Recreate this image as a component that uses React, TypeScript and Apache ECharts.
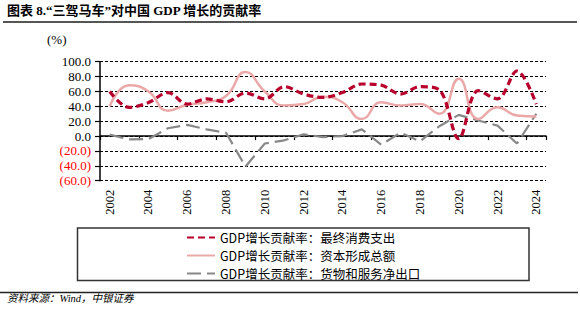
import React, { useEffect, useRef } from "react";
import * as echarts from "echarts";

const years = ["2002","2003","2004","2005","2006","2007","2008","2009","2010","2011","2012","2013","2014","2015","2016","2017","2018","2019","2020","2021","2022","2023","2024"];
const consumption = [60, 38.5, 45, 58.5, 43, 50, 46, 58, 50, 66.5, 56.5, 52, 58.5, 70, 68.5, 56.5, 66.5, 62, -3.5, 61, 50, 87.5, 43];
const capital = [40, 68.5, 60, 34, 42, 45.5, 54, 86, 60, 41, 43, 53, 45.5, 23, 45.5, 41, 43, 30, 77, 23, 38.7, 27.6, 26.3];
const netExports = [2, -4.5, -4, 10.5, 15, 9, 4.5, -41, -10, -5.7, 2.3, -1.3, 0, 9, -11.5, 4.5, -7, 13.3, 28.5, 21, 14, -10, 30];
const seriesNames = [
  "GDP增长贡献率：最终消费支出",
  "GDP增长贡献率：资本形成总额",
  "GDP增长贡献率：货物和服务净出口",
];
const titleText = "图表 8.“三驾马车”对中国 GDP 增长的贡献率";
const unitText = "(%)";
const sourceText = "资料来源：Wind，中银证券";

const serif = "'Liberation Serif', 'Times New Roman', serif";
const cjk = "'Noto Sans CJK SC', 'Noto Sans', sans-serif";

export default function App() {
  const ref = useRef<HTMLDivElement>(null);
  useEffect(() => {
    if (!ref.current) return;
    const chart = echarts.init(ref.current, null, { renderer: "svg" });
    chart.setOption({
      animation: false,
      backgroundColor: "#ffffff",
      grid: { left: 100, right: 34, top: 61.7, bottom: 149.3, containLabel: false },
      xAxis: [
        {
          type: "category",
          data: years,
          position: "bottom",
          boundaryGap: true,
          axisLine: { show: false, onZero: false },
          axisTick: { show: false },
          splitLine: { show: false },
          axisLabel: {
            interval: 1,
            rotate: 90,
            margin: 9,
            color: "#000",
            fontFamily: serif,
            fontSize: 12.5,
          },
        },
        {
          type: "category",
          data: years,
          position: "top",
          boundaryGap: true,
          axisLine: { show: true, onZero: true, lineStyle: { color: "#000", width: 1.5 } },
          axisTick: { show: true, interval: 1, inside: true, length: 4, lineStyle: { color: "#000", width: 1.2 } },
          axisLabel: { show: false },
          splitLine: { show: false },
        },
      ],
      yAxis: {
        type: "value",
        min: -60,
        max: 100,
        interval: 20,
        axisLine: { show: true, onZero: false, lineStyle: { color: "#000", width: 1.5 } },
        axisTick: { show: true, length: 5, lineStyle: { color: "#000", width: 1.2 } },
        splitLine: { show: true, lineStyle: { color: "#000", width: 1, type: [3, 2] } },
        axisLabel: {
          margin: 9,
          fontFamily: serif,
          fontSize: 13,
          formatter: (v: number) =>
            v < 0 ? "{neg|(" + Math.abs(v).toFixed(1) + ")}" : "{pos|" + v.toFixed(1) + "}",
          rich: {
            neg: { color: "#ff0000", fontFamily: serif, fontSize: 13 },
            pos: { color: "#000", fontFamily: serif, fontSize: 13 },
          },
        },
      },
      legend: {
        orient: "vertical",
        left: 186,
        top: 231,
        padding: 0,
        itemWidth: 28,
        itemHeight: 12,
        itemGap: 5,
        itemStyle: { color: "rgba(0,0,0,0)", borderColor: "rgba(0,0,0,0)", borderWidth: 0, opacity: 0 },
        textStyle: { fontFamily: cjk, fontSize: 12.5, color: "#000", lineHeight: 13 },
        data: seriesNames,
      },
      series: [
        {
          name: seriesNames[0],
          type: "line",
          data: consumption,
          symbol: "none",
          smooth: 0.35,
          z: 3,
          lineStyle: { color: "#B8002C", width: 3.2, type: [7, 4] },
          itemStyle: { color: "#B8002C" },
        },
        {
          name: seriesNames[1],
          type: "line",
          data: capital,
          symbol: "none",
          smooth: 0.5,
          z: 2,
          lineStyle: { color: "#EBA8A8", width: 2.5 },
          itemStyle: { color: "#EBA8A8" },
        },
        {
          name: seriesNames[2],
          type: "line",
          data: netExports,
          symbol: "none",
          smooth: false,
          z: 1,
          lineStyle: { color: "#888888", width: 2.2, type: [14, 6] },
          itemStyle: { color: "#888888" },
        },
      ],
      graphic: [
        {
          type: "text",
          left: 7,
          top: 4,
          style: { text: titleText, fontFamily: serif + ", " + cjk, fontWeight: "bold", fontSize: 13, fill: "#000" },
        },
        {
          type: "line",
          shape: { x1: 3, y1: 22, x2: 577, y2: 22 },
          style: { stroke: "#555", lineWidth: 2 },
        },
        {
          type: "text",
          left: 47,
          top: 33,
          style: { text: unitText, fontFamily: serif, fontSize: 13, fill: "#000" },
        },
        {
          type: "rect",
          shape: { x: 77.5, y: 228, width: 451.5, height: 52.5 },
          style: { fill: "none", stroke: "#333", lineWidth: 1.5 },
        },
        {
          type: "line",
          shape: { x1: 0, y1: 292.5, x2: 578, y2: 292.5 },
          style: { stroke: "#222", lineWidth: 1.5 },
        },
        {
          type: "text",
          left: 7,
          top: 293,
          style: { text: sourceText, fontFamily: serif + ", " + cjk, fontStyle: "italic", fontSize: 10.5, fill: "#000" },
        },
      ],
    });
    return () => chart.dispose();
  }, []);
  return (
    <div
      ref={ref}
      style={{ position: "fixed", left: 0, top: 0, width: 580, height: 330, background: "#fff" }}
    />
  );
}
